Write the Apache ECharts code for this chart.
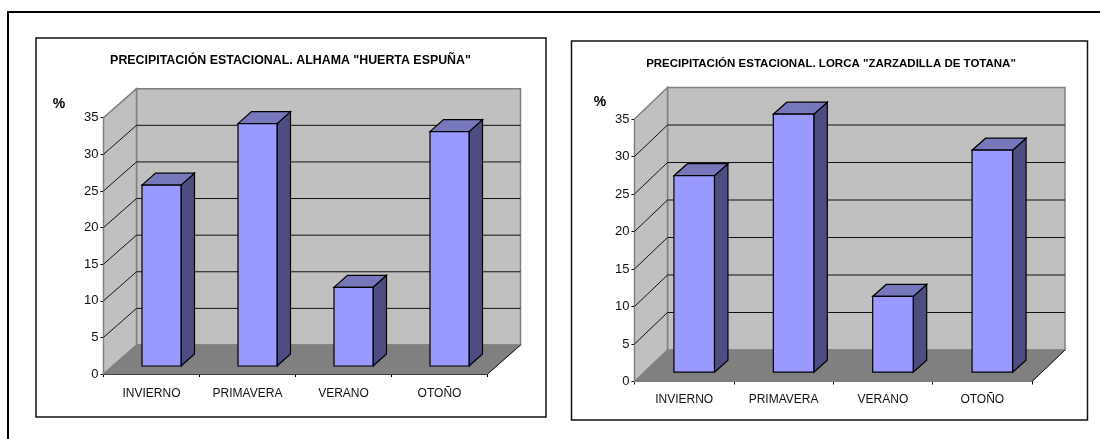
<!DOCTYPE html>
<html><head><meta charset="utf-8">
<style>html,body{margin:0;padding:0;background:#fff}#c{width:1100px;height:439px}</style>
<script src="https://cdn.jsdelivr.net/npm/echarts@6/dist/echarts.min.js"></script>
</head><body><div id="c"></div>
<script>
const categories = ['INVIERNO', 'PRIMAVERA', 'VERANO', 'OTOÑO'];
const alhamaValues = [24.7, 33.1, 10.75, 32];
const lorcaValues = [26.2, 34.4, 10.1, 29.6];
const titleAlhama = 'PRECIPITACIÓN ESTACIONAL. ALHAMA "HUERTA ESPUÑA"';
const titleLorca = 'PRECIPITACIÓN ESTACIONAL. LORCA "ZARZADILLA DE TOTANA"';
const yTicks = [0, 5, 10, 15, 20, 25, 30, 35];

const panels = [
  {frame:[36,38,510,379], left:103.5, right:487.5, top:117.7, bottom:374, dx:33, dy:29, barDx:13.5, barDy:12, offX:10, offY:8, barW:39, labelMargin:14,
   title:titleAlhama, titleX:290.5, titleY:55, titleSize:12.4, pctX:59, pctY:104, values:alhamaValues},
  {frame:[571.5,41,516,379], left:634.5, right:1032, top:119, bottom:381.5, dx:33, dy:31.5, barDx:13.5, barDy:12, offX:10, offY:9.3, barW:40.5, labelMargin:12,
   title:titleLorca, titleX:831, titleY:58, titleSize:11.5, pctX:600, pctY:102, values:lorcaValues}
];
const W='#c0c0c0', F='#808080', EDGE='#808080';

function wallSeries(p,i){
  return {type:'custom', xAxisIndex:i, yAxisIndex:i, silent:true, z:1, clip:false,
    data:[0],
    renderItem(params,api){
      const xL=p.left, xR=p.right;
      const y0=api.coord([0,0])[1], yT=api.coord([0,35])[1];
      const ch=[];
      ch.push({type:'polygon',shape:{points:[[xL+p.dx,y0-p.dy],[xR+p.dx,y0-p.dy],[xR+p.dx,yT-p.dy],[xL+p.dx,yT-p.dy]]},style:{fill:W,stroke:EDGE,lineWidth:1.5}});
      ch.push({type:'polygon',shape:{points:[[xL,y0],[xL+p.dx,y0-p.dy],[xL+p.dx,yT-p.dy],[xL,yT]]},style:{fill:W,stroke:EDGE,lineWidth:1.5}});
      ch.push({type:'polygon',shape:{points:[[xL,y0],[xR,y0],[xR+p.dx,y0-p.dy],[xL+p.dx,y0-p.dy]]},style:{fill:F,stroke:F,lineWidth:1}});
      yTicks.forEach(v=>{
        if(v===0||v===35) return;
        const y=api.coord([0,v])[1];
        ch.push({type:'polyline',shape:{points:[[xL,y],[xL+p.dx,y-p.dy],[xR+p.dx,y-p.dy]]},style:{fill:null,stroke:'#111',lineWidth:1}});
      });
      ch.push({type:'line',shape:{x1:xR,y1:y0,x2:xR+p.dx,y2:y0-p.dy},style:{stroke:'#111',lineWidth:1}});
      return {type:'group',children:ch};
    }};
}
function barSeries(p,i){
  return {type:'custom', name:p.title, xAxisIndex:i, yAxisIndex:i, z:3, clip:false,
    encode:{x:0,y:1},
    data:p.values.map((v,k)=>[k,v]),
    renderItem(params,api){
      const c=api.coord([api.value(0),api.value(1)]);
      const b=api.coord([api.value(0),0]);
      const x0=c[0]+p.offX-p.barW/2, x1=x0+p.barW;
      const yt=c[1]-p.offY, yb=b[1]-p.offY;
      const dx=p.barDx, dy=p.barDy;
      const st=(fill)=>({fill,stroke:'#000',lineWidth:1.2,lineJoin:'miter'});
      return {type:'group',children:[
        {type:'polygon',shape:{points:[[x1,yb],[x1+dx,yb-dy],[x1+dx,yt-dy],[x1,yt]]},style:st('#4d4d80')},
        {type:'polygon',shape:{points:[[x0,yt],[x1,yt],[x1+dx,yt-dy],[x0+dx,yt-dy]]},style:st('#7777bb')},
        {type:'rect',shape:{x:x0,y:yt,width:p.barW,height:yb-yt},style:st('#9999ff')}
      ]};
    }};
}
const grids=panels.map(p=>({left:p.left,width:p.right-p.left,top:p.top,height:p.bottom-p.top,containLabel:false}));
const xAxes=panels.map((p,i)=>({type:'category',gridIndex:i,data:categories,boundaryGap:true,
  axisLine:{onZero:false,lineStyle:{color:'#000',width:1}},axisTick:{show:true,length:3,alignWithLabel:false,lineStyle:{color:'#000'}},
  axisLabel:{color:'#111',fontFamily:'Liberation Sans',fontSize:12,margin:p.labelMargin,interval:0}}));
const yAxes=panels.map((p,i)=>({type:'value',gridIndex:i,min:0,max:35,interval:5,
  axisLine:{show:true,lineStyle:{color:'#000',width:1}},axisTick:{show:true,length:3,lineStyle:{color:'#000'}},
  axisLabel:{color:'#111',fontFamily:'Liberation Sans',fontSize:13,margin:5},splitLine:{show:false}}));
const frames=[];
panels.forEach(p=>{
  frames.push({type:'rect',z:-5,shape:{x:p.frame[0],y:p.frame[1],width:p.frame[2],height:p.frame[3]},style:{fill:'#fff',stroke:'#111',lineWidth:1.5}});
  frames.push({type:'text',z:5,x:p.pctX,y:p.pctY,style:{text:'%',fill:'#000',font:'bold 14px "Liberation Sans"',textAlign:'center',textVerticalAlign:'middle'}});
});
frames.push({type:'polyline',z:-6,shape:{points:[[8,439],[8,12],[1100,12]]},style:{fill:null,stroke:'#000',lineWidth:2}});
const chart=echarts.init(document.getElementById('c'),null,{renderer:'canvas'});
chart.setOption({
  animation:false,backgroundColor:'#fff',
  title:panels.map(p=>({text:p.title,left:p.titleX,top:p.titleY,padding:0,textAlign:'center',textStyle:{fontFamily:'Liberation Sans',fontWeight:'bold',fontSize:p.titleSize,color:'#000'}})),
  grid:grids,xAxis:xAxes,yAxis:yAxes,
  graphic:{elements:frames},
  series:panels.flatMap((p,i)=>[wallSeries(p,i),barSeries(p,i)])
});
</script></body></html>
